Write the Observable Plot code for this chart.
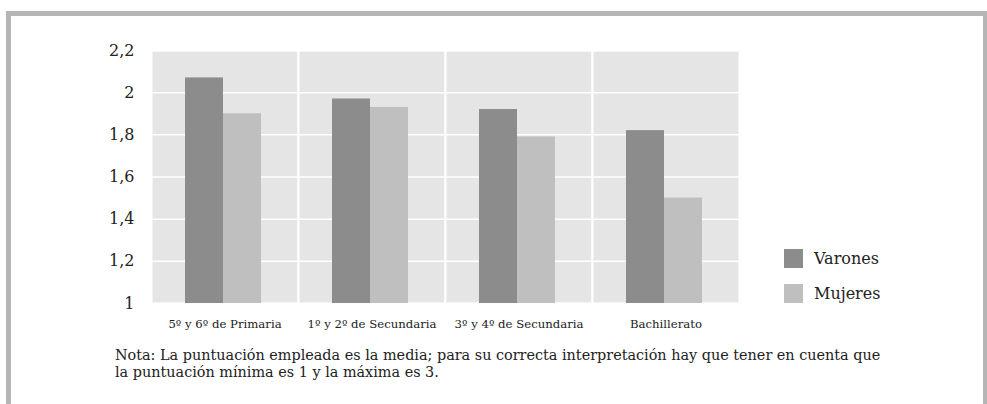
<!DOCTYPE html>
<html>
<head>
<meta charset="utf-8">
<script src="https://cdn.jsdelivr.net/npm/d3@7"></script>
<script src="https://cdn.jsdelivr.net/npm/@observablehq/plot@0.6"></script>
<style>
  html, body { margin: 0; padding: 0; background: #fff; width: 987px; height: 404px; overflow: hidden; }
  body { position: relative; font-family: "DejaVu Serif", serif; color: #222; }
  #box { position: absolute; left: 6px; top: 11px; width: 982px; height: 430px; box-sizing: border-box;
         border: 5px solid #b5b5b5; border-bottom: none; }
  #chart { position: absolute; left: 0; top: 0; }
  #legend { position: absolute; left: 784px; top: 249px; font-size: 16px; }
  .item { display: flex; align-items: center; height: 19px; margin-bottom: 16px; }
  .sw { width: 19px; height: 19px; margin-right: 11px; }
  #note { position: absolute; left: 115px; top: 347px; font-size: 14.4px; line-height: 17px; white-space: nowrap; }
</style>
</head>
<body>
<div id="box"></div>
<div id="chart"></div>
<div id="legend"></div>
<div id="note">Nota: La puntuación empleada es la media; para su correcta interpretación hay que tener en cuenta que<br>la puntuación mínima es 1 y la máxima es 3.</div>
<script>
const categories = ["5º y 6º de Primaria", "1º y 2º de Secundaria", "3º y 4º de Secundaria", "Bachillerato"];
const series = ["Varones", "Mujeres"];
const varones = [2.07, 1.97, 1.92, 1.82];
const mujeres = [1.90, 1.93, 1.79, 1.50];
const yTicks = [1, 1.2, 1.4, 1.6, 1.8, 2, 2.2];
const colors = ["#8c8c8c", "#bfbfbf"];

const data = [];
categories.forEach((c, i) => {
  data.push({cat: c, sex: series[0], value: varones[i]});
  data.push({cat: c, sex: series[1], value: mujeres[i]});
});

const chart = Plot.plot({
  width: 760,
  height: 340,
  marginLeft: 150,
  marginRight: 21,
  marginTop: 50,
  marginBottom: 37,
  style: {fontFamily: "DejaVu Serif", background: "transparent", color: "#222"},
  fx: {domain: categories, padding: 0, label: null},
  x: {domain: series, paddingInner: 0, paddingOuter: 0.934, align: 0.48, axis: null},
  y: {domain: [1, 2.2], ticks: yTicks, label: null},
  color: {domain: series, range: colors},
  marks: [
    Plot.frame({fill: "#e5e5e5", stroke: "#fff", strokeWidth: 2}),
    Plot.gridY(yTicks, {stroke: "#fff", strokeOpacity: 1, strokeWidth: 1.5}),
    Plot.barY(data, {fx: "cat", x: "sex", y1: 1, y2: "value", fill: "sex", inset: 0}),
    Plot.axisY(yTicks, {anchor: "left", tickSize: 0, tickPadding: 17, fontSize: 16,
      tickFormat: d => String(d).replace(".", ","), facetAnchor: "left"}),
    Plot.axisFx({anchor: "bottom", tickSize: 0, tickPadding: 16, fontSize: 11.7, label: null})
  ]
});
document.getElementById("chart").appendChild(chart);

const legend = document.getElementById("legend");
series.forEach((s, i) => {
  const item = document.createElement("div");
  item.className = "item";
  item.innerHTML = `<div class="sw" style="background:${colors[i]}"></div><span>${s}</span>`;
  legend.appendChild(item);
});
</script>
</body>
</html>
